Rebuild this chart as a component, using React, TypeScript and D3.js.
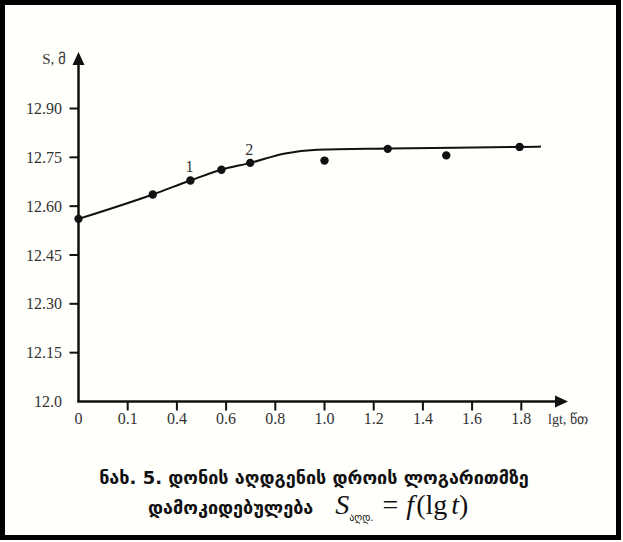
import React from "react";
import * as d3 from "d3";

// Data
const pointX = [0, 0.302, 0.455, 0.581, 0.698, 1.0, 1.257, 1.495, 1.793];
const pointY = [12.561, 12.636, 12.679, 12.712, 12.733, 12.74, 12.776, 12.756, 12.782];
const lineX = [0, 0.302, 0.455, 0.581, 0.698, 0.84, 0.97, 1.26, 1.8, 1.88];
const lineY = [12.561, 12.636, 12.679, 12.712, 12.733, 12.762, 12.773, 12.777, 12.782, 12.783];
const pointLabels = [
  { idx: 2, text: "1" },
  { idx: 4, text: "2" },
];
const xTickValues = [0.2, 0.4, 0.6, 0.8, 1.0, 1.2, 1.4, 1.6, 1.8];
const xLabelValues = [0, 0.2, 0.4, 0.6, 0.8, 1.0, 1.2, 1.4, 1.6, 1.8];
const xLabelTexts = ["0", "0.1", "0.4", "0.6", "0.8", "1.0", "1.2", "1.4", "1.6", "1.8"];
const yTickValues = [12.15, 12.3, 12.45, 12.6, 12.75, 12.9];
const yLabelValues = [12.0, 12.15, 12.3, 12.45, 12.6, 12.75, 12.9];
const yLabelTexts = ["12.0", "12.15", "12.30", "12.45", "12.60", "12.75", "12.90"];
const yAxisTitle = "S, მ";
const xAxisTitle = "lgt, წთ";
const captionLine1 = "ნახ. 5. დონის აღდგენის დროის ლოგარითმზე";
const captionLine2 = "დამოკიდებულება";
const captionSub = "აღდ.";

export default function App() {
  const W = 623;
  const H = 542;
  const x0 = 78.5;
  const xScale = d3.scaleLinear().domain([0, 1.8]).range([x0, x0 + 246 * 1.8]);
  const yScale = d3.scaleLinear().domain([12.0, 12.9]).range([401.5, 108.5]);
  const line = d3
    .line<number>()
    .x((_, i) => xScale(lineX[i]))
    .y((d) => yScale(d))
    .curve(d3.curveMonotoneX);
  const serif = "'Liberation Serif', 'Times New Roman', serif";
  const geo = "'DejaVu Sans', sans-serif";
  const axisTop = 52;
  const axisRight = 568;
  const yBase = yScale(12.0);
  const mathSize = 28;

  return (
    <svg
      width={W}
      height={H}
      style={{ position: "absolute", left: 0, top: 0, fontFamily: serif }}
    >
      <rect x={0} y={0} width={W} height={H} fill="#fffffc" />
      <rect x={2.5} y={2.5} width={616} height={535} fill="none" stroke="#000" strokeWidth={5} />

      {/* Axes */}
      <line x1={x0} y1={yBase} x2={x0} y2={axisTop + 10} stroke="#111" strokeWidth={2.5} />
      <path d={`M${x0},${axisTop} L${x0 - 6},${axisTop + 13} L${x0 + 6},${axisTop + 13} Z`} fill="#111" />
      <line x1={x0 - 1.25} y1={yBase} x2={axisRight - 10} y2={yBase} stroke="#111" strokeWidth={2.5} />
      <path d={`M${axisRight},${yBase} L${axisRight - 13},${yBase - 6} L${axisRight - 13},${yBase + 6} Z`} fill="#111" />

      {/* Y ticks */}
      {yTickValues.map((v) => (
        <line key={"yt" + v} x1={x0 - 9} x2={x0} y1={yScale(v)} y2={yScale(v)} stroke="#111" strokeWidth={2} />
      ))}
      {yLabelValues.map((v, i) => (
        <text key={"yl" + v} x={62} y={yScale(v)} dy="0.35em" textAnchor="end" fontSize={16} fill="#333" style={{ fontFamily: serif }}>
          {yLabelTexts[i]}
        </text>
      ))}
      <text x={66} y={64} textAnchor="end" fontSize={15} fill="#333" style={{ fontFamily: serif }}>
        {yAxisTitle}
      </text>

      {/* X ticks */}
      {xTickValues.map((v) => (
        <line key={"xt" + v} x1={xScale(v)} x2={xScale(v)} y1={yBase} y2={yBase + 9} stroke="#111" strokeWidth={2} />
      ))}
      {xLabelValues.map((v, i) => (
        <text key={"xl" + v} x={xScale(v)} y={424} textAnchor="middle" fontSize={16} fill="#333" style={{ fontFamily: serif }}>
          {xLabelTexts[i]}
        </text>
      ))}
      <text x={548} y={424} fontSize={14} fill="#333" style={{ fontFamily: serif }}>
        {xAxisTitle}
      </text>

      {/* Curve */}
      <path d={line(lineY) || ""} fill="none" stroke="#111" strokeWidth={2} />
      {pointY.map((v, i) => (
        <circle key={"p" + i} cx={xScale(pointX[i])} cy={yScale(v)} r={4.2} fill="#111" />
      ))}
      {pointLabels.map((l) => (
        <text
          key={"lab" + l.text}
          x={xScale(pointX[l.idx]) - 1}
          y={yScale(pointY[l.idx]) - 8}
          textAnchor="middle"
          fontSize={16}
          fill="#333"
          style={{ fontFamily: serif }}
        >
          {l.text}
        </text>
      ))}

      {/* Caption */}
      <text
        x={314}
        y={484}
        textAnchor="middle"
        fontSize={18}
        fontWeight="bold"
        style={{ fontFamily: geo }}
        fill="#111"
      >
        {captionLine1}
      </text>
      <text y={514} fontSize={18} fill="#111">
        <tspan x={148} fontWeight="bold" style={{ fontFamily: geo }}>
          {captionLine2}
        </tspan>
        <tspan dx={22} fontStyle="italic" fontSize={mathSize} style={{ fontFamily: serif }}>S</tspan>
        <tspan dy={7} fontSize={10} style={{ fontFamily: geo }}>{captionSub}</tspan>
        <tspan dy={-7} dx={9} fontSize={mathSize} style={{ fontFamily: serif }}>=</tspan>
        <tspan dx={8} fontStyle="italic" fontSize={mathSize} style={{ fontFamily: serif }}>f</tspan>
        <tspan dx={2} fontSize={mathSize} style={{ fontFamily: serif }}>(lg</tspan>
        <tspan dx={4} fontStyle="italic" fontSize={mathSize} style={{ fontFamily: serif }}>t</tspan>
        <tspan fontSize={mathSize} style={{ fontFamily: serif }}>)</tspan>
      </text>
    </svg>
  );
}
